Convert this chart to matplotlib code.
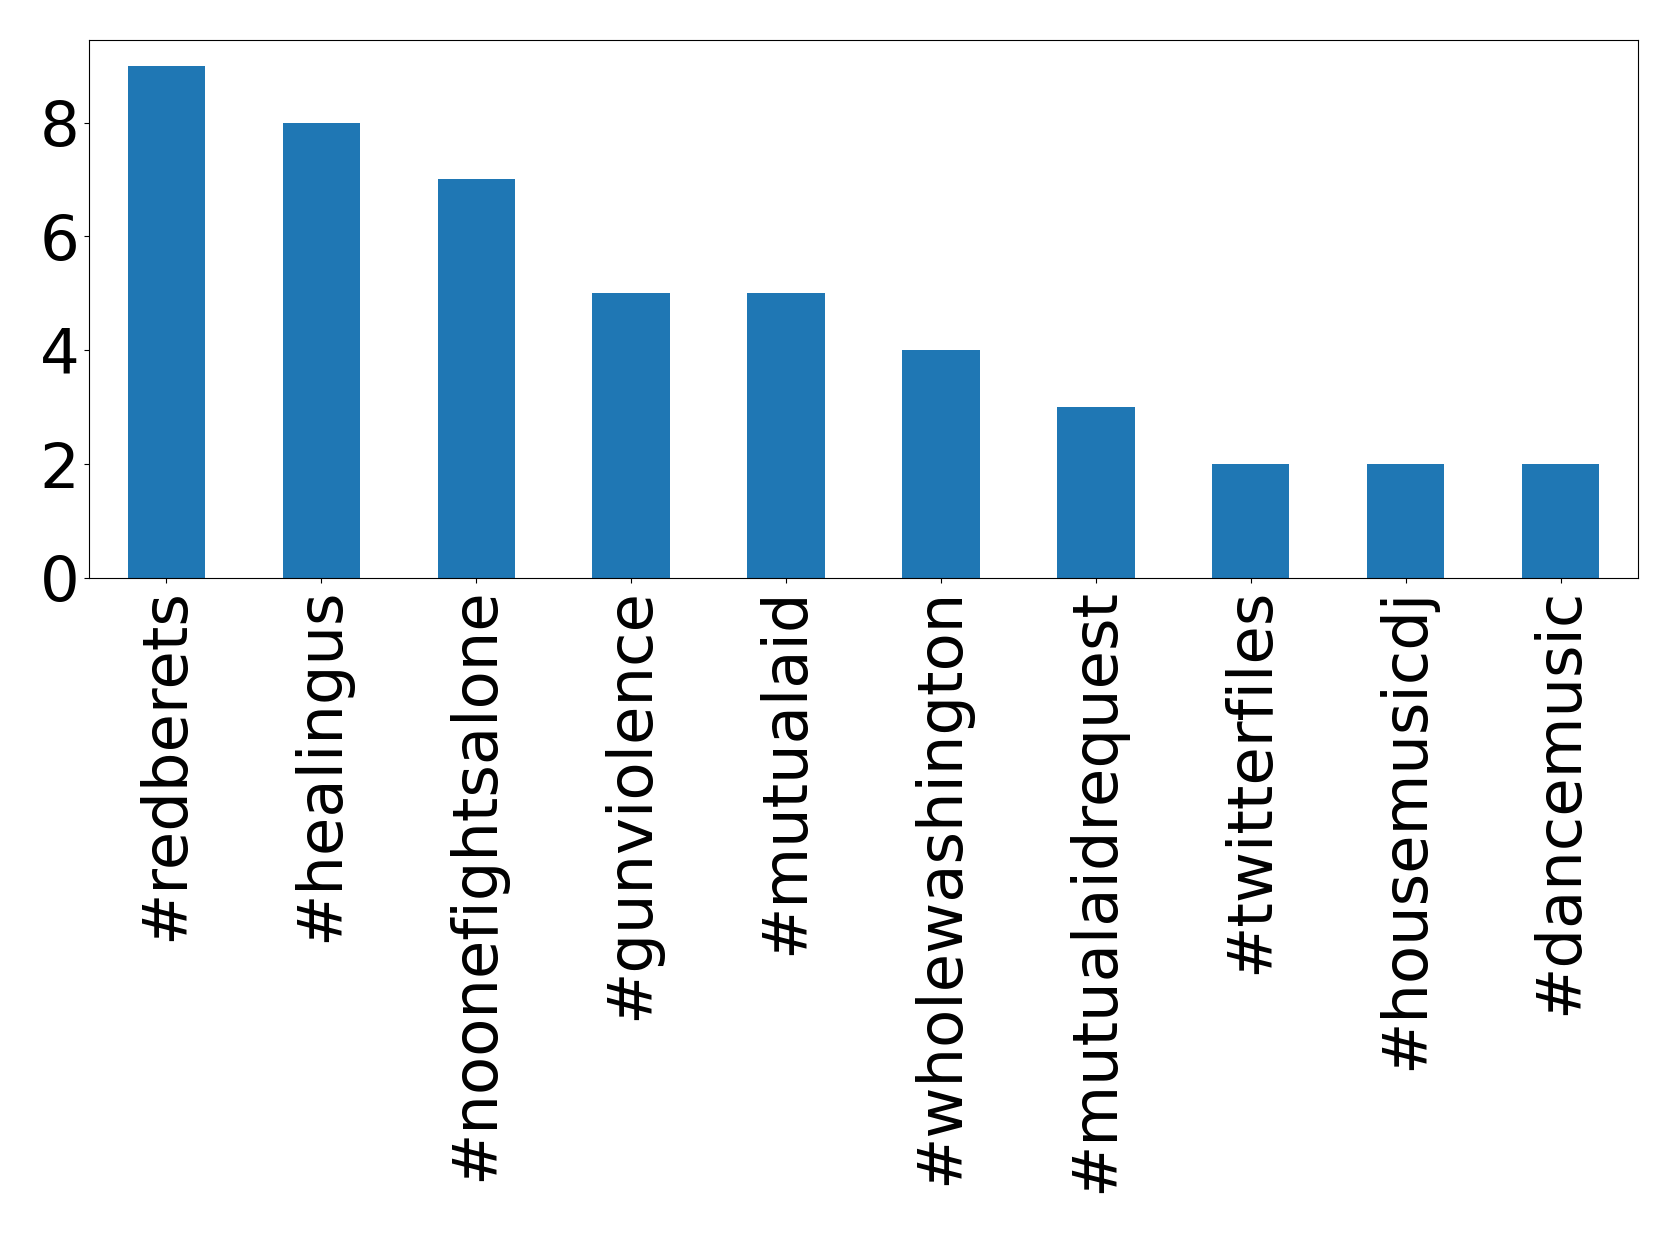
import pandas as pd
import matplotlib.pyplot as plt

hashtags = ['#redberets', '#healingus', '#noonefightsalone', '#gunviolence',
            '#mutualaid', '#wholewashington', '#mutualaidrequest',
            '#twitterfiles', '#housemusicdj', '#dancemusic']
counts = [9, 8, 7, 5, 5, 4, 3, 2, 2, 2]

s = pd.Series(counts, index=hashtags)

fig = plt.figure(figsize=(16.79, 12.33), dpi=100)
ax = fig.add_axes([89 / 1679, 1 - 578 / 1233, (1638 - 89) / 1679, (578 - 40) / 1233])
s.plot(kind='bar', ax=ax, color='#1f77b4')
ax.tick_params(axis='both', labelsize=45)
ax.set_yticks([0, 2, 4, 6, 8])
fig.savefig('out.png', dpi=100)
